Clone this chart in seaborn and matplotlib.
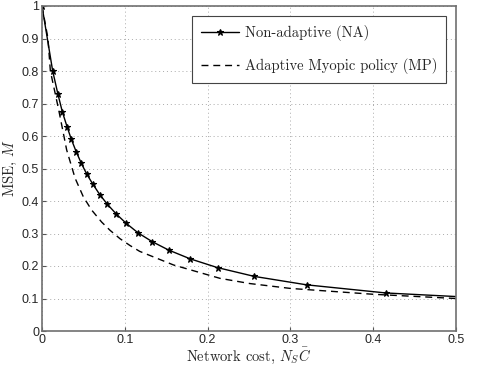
"""MSE versus network cost for non-adaptive and adaptive myopic policies."""

import matplotlib
matplotlib.use("Agg")
import matplotlib.pyplot as plt
import seaborn as sns

# Non-adaptive (NA) curve, marker points plus line end at 0.5
na_cost = [0, 0.0129, 0.0193, 0.0245, 0.0302, 0.0354, 0.0414, 0.0475, 0.054,
           0.0616, 0.0697, 0.0789, 0.0897, 0.1014, 0.116, 0.133, 0.153, 0.179,
           0.212, 0.2564, 0.3197, 0.4155, 0.5]
na_mse = [1, 0.8, 0.728, 0.675, 0.629, 0.59, 0.551, 0.516, 0.483, 0.451, 0.42,
          0.39, 0.36, 0.332, 0.302, 0.275, 0.249, 0.222, 0.195, 0.168, 0.142,
          0.117, 0.106]

# Adaptive myopic policy (MP) curve
mp_cost = [0, 0.0072, 0.0101, 0.0202, 0.0298, 0.04, 0.0499, 0.06, 0.0721,
           0.0821, 0.0942, 0.1063, 0.118, 0.159, 0.215, 0.251, 0.30, 0.40, 0.5]
mp_mse = [1, 0.9, 0.8, 0.68, 0.557, 0.47, 0.413, 0.372, 0.335, 0.31, 0.284,
          0.263, 0.245, 0.203, 0.162, 0.146, 0.131, 0.113, 0.1]

x_ticks = [0, 0.1, 0.2, 0.3, 0.4, 0.5]
y_ticks = [0, 0.1, 0.2, 0.3, 0.4, 0.5, 0.6, 0.7, 0.8, 0.9, 1]

sns.set_style("ticks")
plt.rcParams["font.family"] = ["Liberation Sans", "DejaVu Sans"]
plt.rcParams["mathtext.fontset"] = "cm"

fig, ax = plt.subplots(figsize=(4.79, 3.65), dpi=100)
fig.subplots_adjust(left=42 / 479, right=456 / 479, top=1 - 6 / 365, bottom=1 - 331 / 365)

sns.lineplot(x=na_cost, y=na_mse, ax=ax, color="black", linewidth=1.0,
             marker="*", markersize=5, markeredgecolor="black", markeredgewidth=0.8,
             markevery=list(range(len(na_cost) - 1)),
             label="Non-adaptive (NA)", sort=False)
sns.lineplot(x=mp_cost, y=mp_mse, ax=ax, color="black", linewidth=1.0,
             linestyle=(0, (5, 3.5)), label="Adaptive Myopic policy (MP)", sort=False)

ax.set_xlim(0, 0.5)
ax.set_ylim(0, 1)
ax.set_xticks(x_ticks)
ax.set_yticks(y_ticks)
ax.set_xticklabels([f"{t:g}" for t in x_ticks], fontsize=9)
ax.set_yticklabels([f"{t:g}" for t in y_ticks], fontsize=9)
ax.tick_params(direction="in", length=3, color="#555555", pad=2)
ax.grid(True, linestyle=(0, (1, 3)), color="#aaaaaa", linewidth=0.7)

for spine in ax.spines.values():
    spine.set_visible(True)
    spine.set_color("#707070")
    spine.set_linewidth(1.2)

ax.set_xlabel(r"Network cost, $N_S\bar{C}$", family="cmr10", fontsize=10.5, labelpad=0)
ax.set_ylabel(r"MSE, $\bar{M}$", family="cmr10", fontsize=10.5, labelpad=2)

leg = ax.legend(loc="upper right", bbox_to_anchor=(446 / 479, 1 - 16 / 365),
                bbox_transform=fig.transFigure, borderaxespad=0,
                prop={"family": "cmr10", "size": 10.5},
                handlelength=2.6, handletextpad=0.4, labelspacing=1.2, borderpad=0.6,
                fancybox=False, framealpha=1, edgecolor="#444444")
leg.get_frame().set_linewidth(0.8)

fig.savefig("out.png", dpi=100)
plt.close(fig)
